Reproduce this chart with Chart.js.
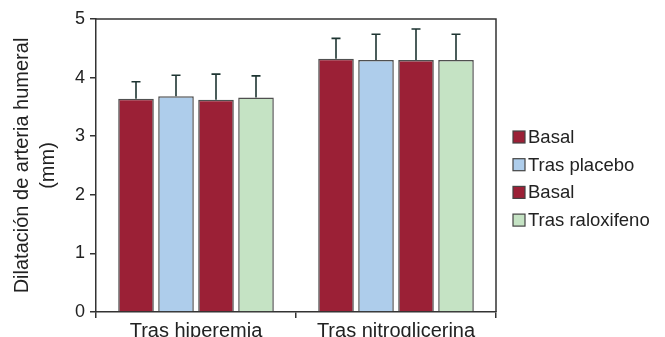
<!DOCTYPE html>
<html>
<head>
<meta charset="utf-8">
<script src="https://cdn.jsdelivr.net/npm/chart.js@4"></script>
<style>
  html, body { margin: 0; padding: 0; background: #fff; }
  #wrap { width: 665px; height: 337px; }
</style>
</head>
<body>
<div id="wrap"><canvas id="c" width="665" height="337"></canvas></div>
<script>
const categories = ['Tras hiperemia', 'Tras nitroglicerina'];
const seriesLabels = ['Basal', 'Tras placebo', 'Basal', 'Tras raloxifeno'];
const basal1 = [3.64, 4.32];
const placebo = [3.68, 4.30];
const basal2 = [3.62, 4.30];
const raloxifeno = [3.66, 4.30];
const err_basal1 = [0.29, 0.35];
const err_placebo = [0.36, 0.44];
const err_basal2 = [0.44, 0.53];
const err_raloxifeno = [0.37, 0.44];
const yTicks = [0, 1, 2, 3, 4, 5];

const colors = ['#9b2036', '#aecdeb', '#9b2036', '#c5e3c4'];
const values = [basal1, placebo, basal2, raloxifeno];
const errors = [err_basal1, err_placebo, err_basal2, err_raloxifeno];
const FONT = '"Liberation Sans", Arial, Helvetica, sans-serif';

const errorBars = {
  id: 'errorBars',
  afterDatasetsDraw(chart) {
    const ctx = chart.ctx;
    const y = chart.scales.y;
    ctx.save();
    ctx.strokeStyle = '#1e3532';
    ctx.lineWidth = 1.6;
    chart.data.datasets.forEach((ds, i) => {
      const meta = chart.getDatasetMeta(i);
      meta.data.forEach((bar, j) => {
        const top = y.getPixelForValue(ds.data[j] + ds.errPlus[j]);
        const base = y.getPixelForValue(ds.data[j]);
        ctx.beginPath();
        ctx.moveTo(bar.x, base);
        ctx.lineTo(bar.x, top);
        ctx.moveTo(bar.x - 4.5, top);
        ctx.lineTo(bar.x + 4.5, top);
        ctx.stroke();
      });
    });
    ctx.restore();
  }
};

const frame = {
  id: 'frame',
  afterDraw(chart) {
    const a = chart.chartArea;
    const ctx = chart.ctx;
    ctx.save();
    ctx.strokeStyle = '#333';
    ctx.lineWidth = 1.5;
    ctx.beginPath();
    ctx.moveTo(a.left, a.top);
    ctx.lineTo(a.right, a.top);
    ctx.lineTo(a.right, a.bottom);
    ctx.stroke();
    ctx.restore();
  }
};

const sideLegend = {
  id: 'sideLegend',
  afterDraw(chart) {
    const ctx = chart.ctx;
    const x0 = chart.chartArea.right + 17;
    const y0 = 137;
    const step = 27.7;
    ctx.save();
    ctx.font = '18.5px ' + FONT;
    ctx.textBaseline = 'middle';
    chart.data.datasets.forEach((ds, i) => {
      const cy = y0 + i * step;
      ctx.fillStyle = ds.backgroundColor;
      ctx.fillRect(x0, cy - 6, 12, 12);
      ctx.strokeStyle = '#444';
      ctx.lineWidth = 1.2;
      ctx.strokeRect(x0, cy - 6, 12, 12);
      ctx.fillStyle = '#222';
      ctx.fillText(ds.label, x0 + 15, cy + 1);
    });
    ctx.restore();
  }
};

new Chart(document.getElementById('c'), {
  type: 'bar',
  data: {
    labels: categories,
    datasets: seriesLabels.map((l, i) => ({
      label: l,
      data: values[i],
      errPlus: errors[i],
      backgroundColor: colors[i],
      borderColor: '#505050',
      borderWidth: 1.5,
      categoryPercentage: 0.8,
      barPercentage: 0.89
    }))
  },
  options: {
    responsive: false,
    devicePixelRatio: 1,
    animation: false,
    layout: { padding: { left: 0, right: 169, top: 19, bottom: 0 } },
    plugins: { legend: { display: false }, tooltip: { enabled: false } },
    scales: {
      x: {
        grid: { display: true, drawOnChartArea: false, offset: true, tickLength: 6, color: '#333', lineWidth: 1.5 },
        border: { color: '#333', width: 1.5 },
        ticks: { font: { family: FONT, size: 20 }, color: '#222', padding: 1 },
        afterFit(s) { s.height = 25; }
      },
      y: {
        min: 0, max: 5,
        afterBuildTicks(s) { s.ticks = yTicks.map(v => ({ value: v })); },
        grid: { display: true, drawOnChartArea: false, tickLength: 6, color: '#333', lineWidth: 1.5 },
        border: { color: '#333', width: 1.5 },
        ticks: { font: { family: FONT, size: 18 }, color: '#222', padding: 5 },
        title: {
          display: true,
          text: ['Dilatación de arteria humeral', '(mm)'],
          font: { family: FONT, size: 20, lineHeight: 1.3 },
          color: '#222',
          padding: { top: 9, bottom: 0 }
        },
        afterFit(s) { s.width = 96; }
      }
    }
  },
  plugins: [errorBars, frame, sideLegend]
});
</script>
</body>
</html>
